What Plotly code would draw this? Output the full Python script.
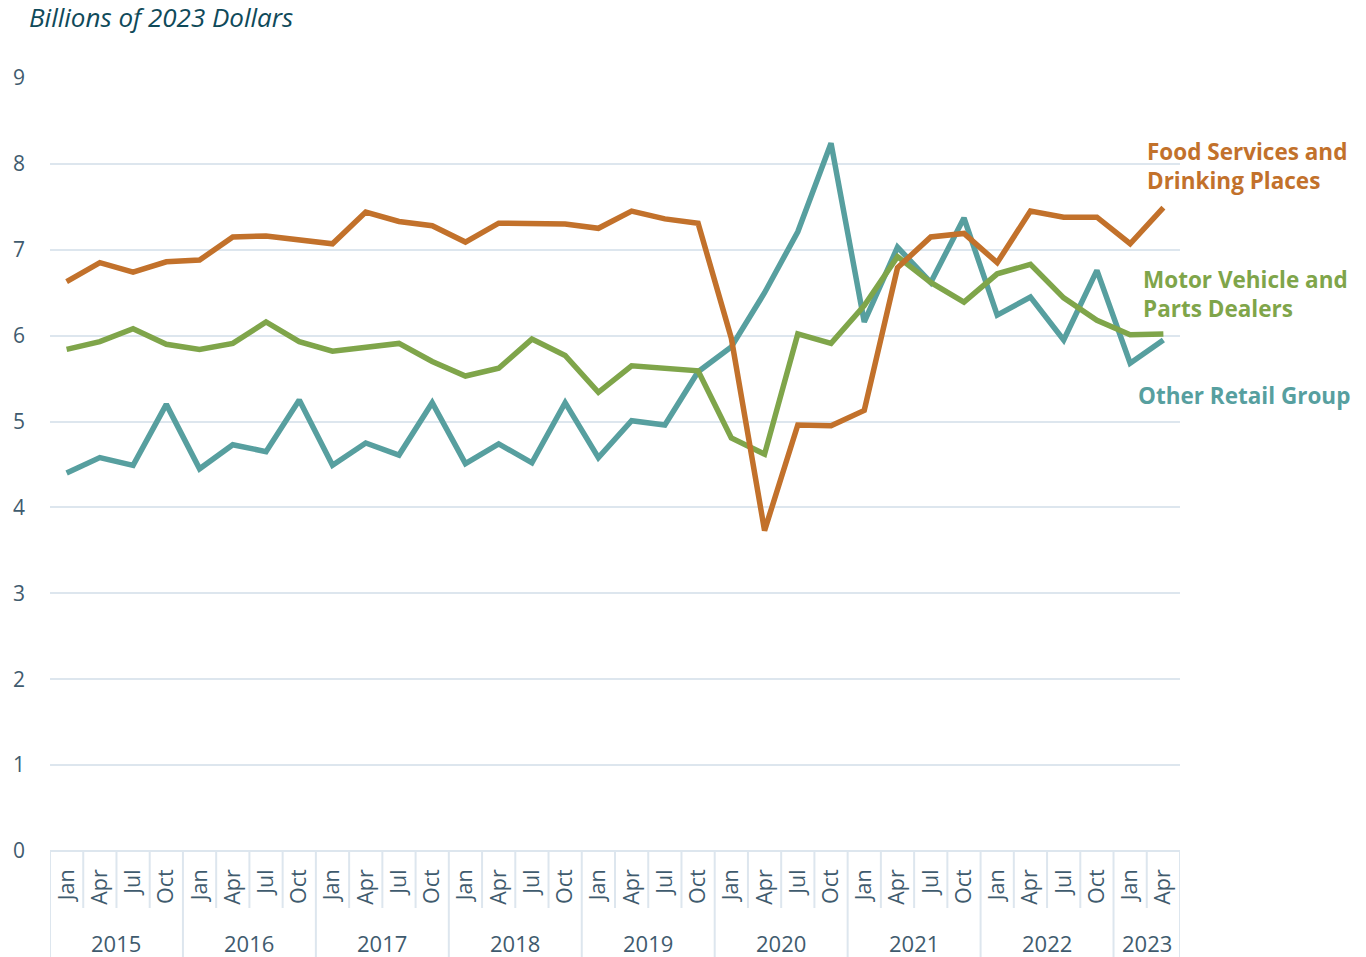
import plotly.graph_objects as go

years = ["2015"] * 4 + ["2016"] * 4 + ["2017"] * 4 + ["2018"] * 4 + ["2019"] * 4 + \
        ["2020"] * 4 + ["2021"] * 4 + ["2022"] * 4 + ["2023"] * 2
months = ["Jan", "Apr", "Jul", "Oct"] * 8 + ["Jan", "Apr"]

food_services = [6.63, 6.85, 6.74, 6.86, 6.88, 7.15, 7.16, 7.12, 7.07, 7.44, 7.33, 7.28,
                 7.09, 7.31, 7.31, 7.30, 7.25, 7.45, 7.36, 7.31, 5.97, 3.73, 4.96, 4.95,
                 5.13, 6.79, 7.15, 7.19, 6.85, 7.45, 7.38, 7.38, 7.07, 7.49]
motor_vehicle = [5.84, 5.93, 6.08, 5.90, 5.84, 5.91, 6.16, 5.93, 5.82, 5.87, 5.91, 5.70,
                 5.53, 5.62, 5.96, 5.77, 5.34, 5.65, 5.62, 5.59, 4.81, 4.62, 6.02, 5.91,
                 6.35, 6.92, 6.62, 6.39, 6.72, 6.83, 6.44, 6.18, 6.01, 6.02]
other_retail = [4.40, 4.58, 4.49, 5.20, 4.45, 4.73, 4.65, 5.25, 4.49, 4.75, 4.61, 5.22,
                4.51, 4.74, 4.52, 5.22, 4.58, 5.01, 4.96, 5.58, 5.87, 6.50, 7.21, 8.24,
                6.16, 7.03, 6.62, 7.37, 6.24, 6.45, 5.95, 6.76, 5.68, 5.95]

ORANGE = "#c2712b"
GREEN = "#7fa54a"
TEAL = "#579f9f"
GRID = "#dde6ee"
TICK_TEXT = "#3f5b6e"
FONT = "Open Sans"

# plot area geometry (pixels) used to express paper offsets
PLOT_W, PLOT_H = 1130, 773

idx = list(range(len(months)))

fig = go.Figure()
series = [
    (other_retail, TEAL, "Other Retail Group"),
    (motor_vehicle, GREEN, "Motor Vehicle and Parts Dealers"),
    (food_services, ORANGE, "Food Services and Drinking Places"),
]
for vals, color, name in series:
    fig.add_trace(go.Scatter(
        x=idx, y=vals, mode="lines", name=name,
        line=dict(color=color, width=5.5),
        hoverinfo="skip",
    ))

# category cell boundaries below the axis: short for quarters, full height at year changes
for b in range(len(months) + 1):
    is_year_edge = b == 0 or b == len(months) or years[b] != years[b - 1]
    depth = 106 if is_year_edge else 57
    fig.add_shape(
        type="line", xref="x", yref="paper",
        x0=b - 0.5, x1=b - 0.5, y0=0, y1=-depth / PLOT_H,
        line=dict(color=GRID, width=2), layer="below",
    )

# year group labels centred under their quarters
year_order = list(dict.fromkeys(years))
for yr in year_order:
    pos = [i for i, y in enumerate(years) if y == yr]
    fig.add_annotation(
        text=yr, xref="x", yref="paper",
        x=(pos[0] + pos[-1]) / 2, y=-(943 - 851) / PLOT_H,
        xanchor="center", yanchor="middle", showarrow=False,
        font=dict(family=FONT, size=22, color=TICK_TEXT),
    )

# direct labels at the right end of the lines
labels = [
    ("Food Services and<br>Drinking Places", ORANGE, 1145, 166),
    ("Motor Vehicle and<br>Parts Dealers", GREEN, 1141, 294),
    ("Other Retail Group", TEAL, 1136, 395),
]
for text, color, px, py in labels:
    fig.add_annotation(
        text=f"<b>{text}</b>", xref="paper", yref="paper",
        x=(px - 50) / PLOT_W, y=(851 - py) / PLOT_H,
        xanchor="left", yanchor="middle", align="left", showarrow=False,
        font=dict(family=FONT, size=22.5, color=color),
    )

fig.add_annotation(
    text="<i>Billions of 2023 Dollars</i>", xref="paper", yref="paper",
    x=(27 - 50) / PLOT_W, y=(851 - 17) / PLOT_H, xanchor="left", yanchor="middle",
    showarrow=False, font=dict(family=FONT, size=26, color="#0f4a5a"),
)

fig.update_layout(
    width=1366, height=957,
    margin=dict(l=50, r=186, t=78, b=106),
    paper_bgcolor="white", plot_bgcolor="white",
    showlegend=False,
    font=dict(family=FONT, color=TICK_TEXT),
    xaxis=dict(
        range=[-0.5, len(months) - 0.5],
        tickmode="array", tickvals=idx, ticktext=months,
        tickangle=-90,
        tickfont=dict(size=21.5, color=TICK_TEXT),
        ticklabelstandoff=13,
        showgrid=False, showline=False, zeroline=False, ticks="",
    ),
    yaxis=dict(
        range=[0, 9], tick0=0, dtick=1,
        showgrid=True, gridcolor=GRID, gridwidth=2,
        zeroline=True, zerolinecolor=GRID, zerolinewidth=2,
        showline=False, ticks="",
        tickfont=dict(size=21, color=TICK_TEXT),
        ticklabelstandoff=24,
    ),
)

fig.write_html("out.html")
